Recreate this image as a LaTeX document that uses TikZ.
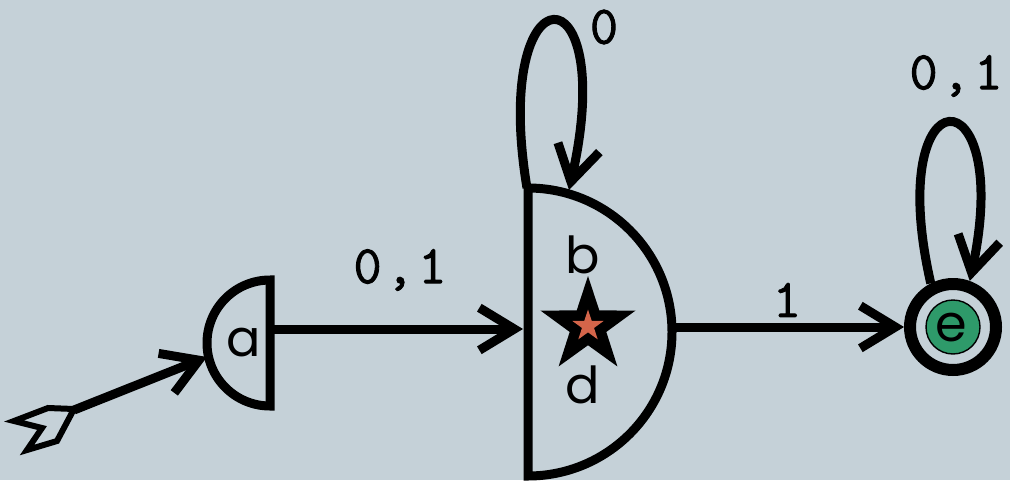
\documentclass[tikz,border=0pt]{standalone}
\usepackage{fontspec}
\newfontfamily\statefont{Poppins}
\newfontfamily\symbfont[LetterSpace=8,FakeBold=1.6]{Latin Modern Mono}
\usetikzlibrary{arrows.meta,shapes.geometric}
\definecolor{canvas}{HTML}{C5D1D8}
\definecolor{markred}{HTML}{D4654A}
\definecolor{acceptgreen}{HTML}{2E9A6A}
\tikzset{
  border/.style={draw=black, line width=0.18cm, line join=miter},
  trans/.style={draw=black, line width=0.18cm,
                -{Straight Barb[length=0.7cm,width=0.85cm]}},
  statelbl/.style={font=\statefont\fontsize{29}{32}\selectfont, inner sep=0pt},
  symlbl/.style={font=\symbfont\fontsize{31}{34}\selectfont, inner sep=0pt},
}

\begin{document}
\begin{tikzpicture}[x=0.02cm, y=-0.02cm]
  \fill[canvas] (0,0) rectangle (1010,480);
  \useasboundingbox (0,0) rectangle (1010,480);
  % state a (half disc, open to the left)
  \draw[border] (270,280) arc (-90:-270:63) -- cycle;
  \node[statelbl] (a) at (244,343) {a};
  % state b (half disc, open to the right)
  \draw[border] (528,188) arc (-90:90:144) -- cycle;
  \node[statelbl] (b) at (583,255) {b};
  \node[statelbl] (d) at (583,385) {d};
  \node[star, star points=5, star point ratio=2.6, minimum size=2cm,
        inner sep=0pt, fill=black] (mark) at (588,326) {};
  \node[star, star points=5, star point ratio=2.6, minimum size=0.66cm,
        inner sep=0pt, fill=markred] (markin) at (mark.center) {};
  % state e (accepting)
  \node[circle, draw=black, line width=0.24cm, minimum size=1.72cm,
        inner sep=0pt] (ering) at (953,327) {};
  \node[circle, draw=black, line width=0.8pt, fill=acceptgreen,
        minimum size=1.08cm, inner sep=0pt] (edisc) at (ering.center) {};
  \node[statelbl] (e) at (951,328) {e};
  % ends of the connectors
  \coordinate (tail) at (74,410);
  \coordinate (a-arc) at (207,357);
  \coordinate (a-chord) at (270,329);
  \coordinate (b-chord) at (523,329);
  \coordinate (b-arc) at (668,327);
  \coordinate (b-top) at (527,188);
  \coordinate (b-loopend) at (569,190);
  % feathered tail of the start arrow
  \draw[line width=0.12cm, line join=miter, fill=canvas]
    (14,421) -- (48,408) -- (74,409) -- (57,441) -- (27,450) -- (42,428) -- cycle;
  % transitions
  \draw[trans] (tail) -- (a-arc);
  \draw[trans] (a-chord) -- (b-chord);
  \node[symlbl] (lab-ab) at (400,270) {0,1};
  \draw[trans] (b-arc) -- (ering.west);
  \node[symlbl] (lab-be) at (787,300) {1};
  \draw[trans] (b-top) .. controls (490,-35) and (620,-35) .. (b-loopend);
  \node[symlbl] (lab-bb) at (604,27) {0};
  \draw[trans] (ering.117) .. controls (882,70) and (1015,70) .. (ering.70);
  \node[symlbl] (lab-ee) at (956,76) {0,1};
\end{tikzpicture}
\end{document}
